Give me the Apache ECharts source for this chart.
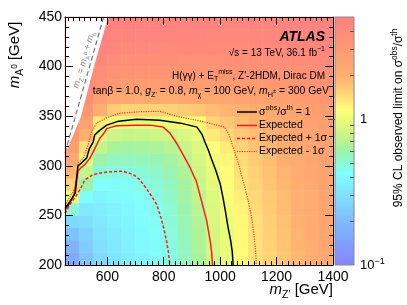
<!DOCTYPE html>
<html><head><meta charset="utf-8">
<script src="https://cdn.jsdelivr.net/npm/echarts@6/dist/echarts.min.js"></script>
<style>html,body{margin:0;padding:0;background:#fff}#c{width:407px;height:305px}</style>
</head><body><div id="c"></div>
<script>
// ================= DATA =================
// heatmap cell centres (GeV)
const mZcenters = [475,525,575,625,675,725,775,825,875,925,975,1025,1075,1125,1175,1225,1275,1325,1375];
const mAcenters = [206.25,218.75,231.25,243.75,256.25,268.75,281.25,293.75,306.25,318.75,331.25,343.75,356.25,368.75,381.25,393.75,406.25,418.75,431.25,443.75];
// observed sigma_obs/sigma_th, rows from mA = 206 (bottom) to 444 (top)
const obsLimit = [
 [0.16,0.22,0.28,0.32,0.35,0.38,0.42,0.47,0.55,0.65,0.82,0.97,1.15,1.35,1.5,1.65,1.85,2.05,2.25],
 [0.18,0.24,0.3,0.33,0.36,0.39,0.43,0.48,0.56,0.66,0.83,0.98,1.17,1.37,1.52,1.68,1.88,2.08,2.28],
 [0.22,0.26,0.31,0.34,0.37,0.4,0.44,0.49,0.57,0.67,0.84,0.99,1.18,1.38,1.55,1.7,1.9,2.1,2.3],
 [0.28,0.29,0.33,0.36,0.38,0.41,0.45,0.5,0.58,0.69,0.86,1.01,1.2,1.4,1.57,1.73,1.93,2.12,2.32],
 [0.5,0.33,0.35,0.37,0.39,0.42,0.46,0.51,0.6,0.71,0.88,1.04,1.23,1.42,1.6,1.76,1.95,2.15,2.35],
 [1.0,0.42,0.38,0.4,0.41,0.44,0.48,0.53,0.62,0.74,0.9,1.08,1.27,1.45,1.63,1.8,2.0,2.18,2.38],
 [1.5,0.6,0.42,0.43,0.44,0.47,0.5,0.55,0.64,0.77,0.93,1.12,1.32,1.5,1.68,1.85,2.05,2.22,2.42],
 [1.9,0.75,0.5,0.48,0.48,0.5,0.53,0.58,0.67,0.8,0.96,1.16,1.36,1.55,1.72,1.9,2.1,2.27,2.46],
 [2.3,0.95,0.6,0.55,0.55,0.56,0.58,0.63,0.72,0.85,1.02,1.22,1.42,1.6,1.78,1.95,2.15,2.32,2.5],
 [2.7,1.4,0.75,0.65,0.63,0.64,0.66,0.7,0.78,0.9,1.12,1.3,1.5,1.68,1.85,2.02,2.2,2.38,2.55],
 [3.1,2.0,0.9,0.8,0.78,0.78,0.8,0.83,0.88,0.97,1.3,1.45,1.62,1.8,1.95,2.1,2.28,2.45,2.6],
 [3.5,2.6,1.3,1.0,0.97,0.96,0.97,1.0,1.05,1.15,1.5,1.65,1.8,1.95,2.1,2.25,2.4,2.55,2.7],
 [3.9,3.2,2.0,1.6,1.5,1.5,1.5,1.52,1.58,1.65,1.8,1.9,2.0,2.12,2.25,2.38,2.52,2.65,2.8],
 [4.4,3.8,2.7,2.3,2.2,2.15,2.15,2.15,2.2,2.25,2.3,2.35,2.42,2.5,2.6,2.7,2.8,2.9,3.0],
 [4.8,4.3,3.3,2.9,2.8,2.75,2.75,2.75,2.75,2.78,2.8,2.82,2.86,2.92,3.0,3.08,3.16,3.25,3.35],
 [5,4.6,3.8,3.4,3.3,3.25,3.25,3.25,3.22,3.22,3.24,3.26,3.3,3.35,3.4,3.46,3.54,3.62,3.7],
 [5,4.9,4.2,3.9,3.75,3.7,3.7,3.7,3.66,3.64,3.64,3.66,3.7,3.74,3.78,3.84,3.9,3.96,4.04],
 [5,5,4.6,4.3,4.15,4.1,4.1,4.1,4.05,4.02,4.0,4.0,4.02,4.06,4.1,4.15,4.2,4.26,4.34],
 [5,5,4.9,4.65,4.5,4.45,4.45,4.45,4.4,4.35,4.32,4.3,4.3,4.33,4.36,4.4,4.45,4.5,4.58],
 [5,5,5,4.95,4.8,4.75,4.75,4.72,4.68,4.62,4.58,4.55,4.55,4.57,4.6,4.65,4.7,4.75,4.8]
];
// contours [mZ', mA]
const obsContour = [[450,257],[470,265],[487,273],[492,290],[496,300],[509,303],[527,308],[536,317],[550,324],[555,331],[574,336],[598,341],[640,345],[704,347],[786,346],[860,343],[918,339],[935,332],[946,324],[958,316],[969,307],[985,295],[1000,282],[1010,268],[1020,252],[1028,238],[1037,225],[1043,213],[1046,200]];
const expContour = [[450,255],[470,264],[482,271],[490,285],[497,295],[510,299],[521,301.5],[538,307.5],[550,314],[562,321],[574,328],[586,332],[598,337.5],[615,339],[633,340.4],[700,341],[751,341],[798,339],[822,333],[845,323],[869,311],[892,299],[916,284],[928,271],[940,258],[952,245],[966,222],[970,212],[973,200]];
const expPlus1 = [[450,252],[470,262],[490,270],[505,277],[521,286],[550,291],[580,293],[609,294],[650,294.5],[675,293],[698,290],[715,286],[739,277],[760,268],[775,261],[790,248],[800,237],[810,224],[816,214],[822,200]];
const expMinus1 = [[450,260],[470,270],[491,280],[497,303],[515,308],[532,321],[544,334],[562,343],[598,348.5],[645,353],[715,354.5],[786,355],[845,350],[940,344.5],[1016,339],[1030,332],[1040,324],[1063,304],[1087,279],[1100,264],[1111,249],[1122,225],[1126,212],[1128,200]];
const kinLine = [[450,313],[587,450]];
const excluded = [[450,312],[450,450],[603,450],[553,400],[507,350],[478,330]];
const xTickLabels = [600,800,1000,1200,1400];
const yTickLabels = [200,250,300,350,400,450];
const zRange = [0.1, 5];
const zMinorTicks = [0.2,0.3,0.4,0.5,0.6,0.7,0.8,0.9,2,3,4];

// ================= STYLE =================
const FONT = "'Liberation Sans', Arial, Helvetica, sans-serif";
const stops = [[0,'#8884ff'],[0.09,'#80a0ff'],[0.18,'#80bcff'],[0.28,'#80e0ff'],[0.37,'#80ffff'],[0.42,'#8cf8d0'],[0.47,'#a4f2a0'],[0.53,'#ccf585'],[0.59,'#eefc78'],[0.625,'#ffff78'],[0.685,'#ffd878'],[0.76,'#ffb070'],[0.87,'#ff9870'],[1,'#ff8080']];
function lerpColor(a,b,t){const pa=parseInt(a.slice(1),16),pb=parseInt(b.slice(1),16);
 const c=s=>Math.round(((pa>>s)&255)*(1-t)+((pb>>s)&255)*t);return 'rgb('+c(16)+','+c(8)+','+c(0)+')';}
function paletteAt(f){for(let k=1;k<stops.length;k++){if(f<=stops[k][0]){const t=(f-stops[k-1][0])/(stops[k][0]-stops[k-1][0]);return lerpColor(stops[k-1][1],stops[k][1],t);}}return stops[stops.length-1][1];}
const vmColors=[];for(let k=0;k<=50;k++)vmColors.push(paletteAt(k/50));

const zMinLog=Math.log10(zRange[0]), zMaxLog=Math.log10(zRange[1]);
const heatData=[];
obsLimit.forEach((row,j)=>row.forEach((v,i)=>heatData.push([i,j,Math.max(zMinLog,Math.min(zMaxLog,Math.log10(v)))])));

const xMinor=[];for(let v=460;v<=1400;v+=20)xMinor.push(v);
const yMinor=[];for(let v=210;v<=450;v+=10)yMinor.push(v);

const chart=echarts.init(document.getElementById('c'),null,{renderer:'canvas'});
const black={color:'#000',width:1};
function xA(pos,len,vals,withLine,withLabel){return {type:'value',gridIndex:0,min:450,max:1400,position:pos,z:5,
 splitLine:{show:false},axisLine:{show:withLine,onZero:false,lineStyle:black},
 axisTick:{show:true,inside:true,length:len,customValues:vals,lineStyle:black},
 axisLabel:{show:withLabel,customValues:xTickLabels,fontSize:14,color:'#000',margin:5,fontFamily:FONT,formatter:v=>String(v)}};}
function yA(pos,len,vals,withLine,withLabel){return {type:'value',gridIndex:0,min:200,max:450,position:pos,z:5,
 splitLine:{show:false},axisLine:{show:withLine,onZero:false,lineStyle:black},
 axisTick:{show:true,inside:true,length:len,customValues:vals,lineStyle:black},
 axisLabel:{show:withLabel,customValues:yTickLabels,fontSize:14,color:'#000',margin:3,fontFamily:FONT,formatter:v=>String(v)}};}

const R=(fs)=>({
 i:{fontSize:fs,fontStyle:'italic',fontFamily:FONT,lineHeight:fs*1.4},
 sub:{fontSize:fs*0.7,verticalAlign:'bottom',fontFamily:FONT,lineHeight:fs*0.7},
 sup:{fontSize:fs*0.7,verticalAlign:'top',fontFamily:FONT,lineHeight:fs*0.7},
 mid:{fontSize:fs*0.55,fontFamily:FONT,lineHeight:fs*0.55}
});
function txt(x,y,text,fs,align,extra,fill){return Object.assign({type:'text',x:x,y:y,z:20,silent:true,
 style:{text:text,fontSize:fs,fontFamily:FONT,fill:fill||'#000',align:align,verticalAlign:'middle',lineHeight:fs*1.4,rich:R(fs)}},extra||{});}
function legLine(y,color,dash,w){return {type:'line',z:20,silent:true,shape:{x1:237,y1:y,x2:257,y2:y},style:{stroke:color,lineWidth:w,lineDash:dash}};}

const lineS=(data,color,type,w)=>({type:'line',xAxisIndex:1,yAxisIndex:1,data:data,symbol:'none',z:4,silent:true,clip:true,
 lineStyle:{color:color,width:w,type:type},emphasis:{disabled:true}});

chart.setOption({
 animation:false,
 grid:[{left:65,top:17,width:268,height:248,show:false},
       {left:335,top:17,width:19,height:248,show:true,borderColor:'#888',borderWidth:1,
        backgroundColor:new echarts.graphic.LinearGradient(0,1,0,0,stops.map(s=>({offset:s[0],color:s[1]})))}],
 xAxis:[
  {type:'category',gridIndex:0,data:mZcenters,show:false},
  xA('bottom',8,xTickLabels,true,true),
  xA('bottom',4,xMinor,false,false),
  xA('top',8,xTickLabels,true,false),
  xA('top',4,xMinor,false,false),
  {type:'value',gridIndex:1,min:0,max:1,show:false}
 ],
 yAxis:[
  {type:'category',gridIndex:0,data:mAcenters,show:false},
  yA('left',8,yTickLabels,true,true),
  yA('left',4,yMinor,false,false),
  yA('right',8,yTickLabels,true,false),
  yA('right',4,yMinor,false,false),
  {type:'value',gridIndex:1,min:zMinLog,max:zMaxLog,position:'right',z:5,splitLine:{show:false},axisLine:{show:false},
   axisTick:{show:true,inside:true,length:7,customValues:[0],lineStyle:{color:'#555'}},
   axisLabel:{show:true,customValues:[zMinLog,0],margin:6,color:'#000',fontFamily:FONT,fontSize:13,
     formatter:v=>Math.abs(v)<1e-9?'1':'{b|10}{s|\u22121}',
     rich:{b:{fontSize:13,fontFamily:FONT,lineHeight:16},s:{fontSize:9,fontFamily:FONT,verticalAlign:'top',lineHeight:9}}}},
  {type:'value',gridIndex:1,min:zMinLog,max:zMaxLog,position:'right',z:5,splitLine:{show:false},axisLine:{show:false},
   axisTick:{show:true,inside:true,length:4,customValues:zMinorTicks.map(v=>Math.log10(v)),lineStyle:{color:'#555'}},
   axisLabel:{show:false}}
 ],
 visualMap:[{type:'continuous',show:false,seriesIndex:0,dimension:2,min:zMinLog,max:zMaxLog,inRange:{color:vmColors}}],
 series:[
  {type:'heatmap',xAxisIndex:0,yAxisIndex:0,data:heatData,z:1,silent:true,emphasis:{disabled:true},itemStyle:{borderWidth:0}},
  {type:'custom',xAxisIndex:1,yAxisIndex:1,z:3,silent:true,data:excluded,
   renderItem:(params,api)=>{if(params.dataIndex!==0)return null;
     return {type:'polygon',shape:{points:excluded.map(p=>api.coord(p))},style:{fill:'#fff'}};}},
  lineS(kinLine,'#777',[5,3],1.2),
  lineS(expMinus1,'#ff3c1e',[1.2,1.2],1.2),
  lineS(expPlus1,'#ff1a1a',[3,2],1.5),
  lineS(expContour,'#ff1a1a','solid',1.5),
  lineS(obsContour,'#000','solid',1.5)
 ],
 graphic:[
  txt(325,37,'ATLAS',14,'right',{style:{text:'ATLAS',fontSize:14,fontWeight:'bold',fontStyle:'italic',fontFamily:FONT,fill:'#000',align:'right',verticalAlign:'middle'}}),
  txt(325,53,'\u221As = 13 TeV, 36.1 fb{sup|\u22121}',10,'right'),
  txt(325,76,'H(\u03b3\u03b3) + E{sub|T}{sup|miss}, Z\'-2HDM, Dirac DM',10,'right'),
  txt(329,91,'tan\u03b2 = 1.0, {i|g}{sub|Z\'} = 0.8, {i|m}{sub|\u03c7} = 100 GeV, {i|m}{sub|H}{mid|\u00b1} = 300 GeV',10.4,'right'),
  legLine(112,'#000',null,1.5),
  legLine(125.5,'#ff1a1a',null,1.5),
  legLine(138.5,'#ff1a1a',[3,2],1.5),
  legLine(151.5,'#ff3c1e',[1.2,1.2],1.2),
  txt(259,112,'\u03c3{sup|obs}/\u03c3{sup|th} = 1',10.5,'left'),
  txt(259,125.5,'Expected',10.5,'left'),
  txt(259,138.5,'Expected + 1\u03c3',10.5,'left'),
  txt(259,151.5,'Expected - 1\u03c3',10.5,'left'),
  txt(333,290,'{i|m}{sub|Z\'} [GeV]',15,'right'),
  txt(15,55,'{i|m}{sub|A}{mid|0} [GeV]',15,'center',{rotation:Math.PI/2}),
  txt(399,118,'95% CL observed limit on \u03c3{sup|obs}/\u03c3{sup|th}',12,'center',{rotation:Math.PI/2}),
  txt(84,60,'{i|m}{sub|Z\'} = {i|m}{sub|A}{mid|0} + {i|m}{sub|h}',9,'center',{rotation:74*Math.PI/180},'#888')
 ]
});
</script></body></html>
